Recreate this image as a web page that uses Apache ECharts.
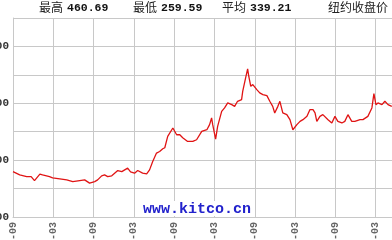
<!DOCTYPE html>
<html>
<head>
<meta charset="utf-8">
<script src="https://cdn.jsdelivr.net/npm/echarts@6/dist/echarts.min.js"></script>
<style>
html,body{margin:0;padding:0;background:#fff;}
#chart{width:392px;height:240px;}
</style>
</head>
<body>
<div id="chart"></div>
<script>
// ---- data ----
const statLabels = ['最高', '最低', '平均'];
const statValues = ['460.69', '259.59', '339.21'];
const chartTitle = '纽约收盘价';
const watermark = 'www.kitco.cn';
const startMonth = '2017-09';
const yTickLabels = [200, 300, 400, 500];

const dates = [
 '2017-09-01','2017-10-01','2017-11-02','2017-11-22','2017-12-07','2018-01-01','2018-01-13','2018-02-14','2018-02-28','2018-03-30',
 '2018-05-01','2018-05-28','2018-06-29','2018-07-21','2018-08-13','2018-09-06','2018-09-19','2018-10-07','2018-10-20','2018-11-04',
 '2018-11-22','2018-12-19','2019-01-07','2019-02-03','2019-02-16','2019-03-04','2019-03-18','2019-04-10','2019-04-28','2019-05-11',
 '2019-05-25','2019-06-12','2019-06-26','2019-07-10','2019-07-19','2019-08-02','2019-08-25','2019-09-12','2019-09-26','2019-10-09',
 '2019-11-01','2019-11-24','2019-12-11','2020-01-04','2020-01-27','2020-02-09','2020-02-18','2020-02-23','2020-03-06','2020-03-15',
 '2020-04-03','2020-04-16','2020-04-30','2020-05-18','2020-06-01','2020-06-14','2020-07-02','2020-07-07','2020-07-20','2020-07-29',
 '2020-08-04','2020-08-13','2020-08-22','2020-09-10','2020-09-23','2020-10-07','2020-10-25','2020-11-08','2020-11-21','2020-11-30',
 '2020-12-14','2020-12-23','2021-01-06','2021-01-24','2021-02-08','2021-02-21','2021-03-09','2021-03-23','2021-04-06','2021-04-24',
 '2021-05-07','2021-05-21','2021-05-30','2021-06-08','2021-06-22','2021-07-05','2021-07-28','2021-08-15','2021-08-29','2021-09-12',
 '2021-09-30','2021-10-13','2021-10-27','2021-11-14','2021-11-28','2021-12-21','2022-01-04','2022-01-26','2022-02-14','2022-02-23',
 '2022-03-02','2022-03-11','2022-03-29','2022-04-12','2022-04-26','2022-05-13'
];
const prices = [
 279.9,274.1,271.1,271.1,264.1,275.4,274.0,271.1,268.8,267.1,
 265.3,262.3,264.1,265.3,259.59,262.3,265.3,272.4,274.1,271.1,
 272.4,281.7,279.9,285.9,279.4,277.1,281.7,277.1,275.9,282.9,
 297.6,312.4,315.2,320.0,321.8,341.7,356.5,344.7,344.7,339.4,
 332.9,332.9,335.9,350.5,353.5,362.4,374.2,362.4,337.1,359.4,
 385.8,391.8,400.6,397.6,394.6,403.5,406.5,421.1,444.8,460.69,
 447.6,429.9,432.9,424.1,418.3,415.3,413.5,403.5,394.6,383.0,
 394.6,403.5,383.0,380.0,371.2,353.5,362.4,368.2,371.2,377.0,
 388.8,388.8,383.0,368.2,377.0,380.0,371.2,365.4,377.0,368.2,
 365.4,368.2,380.0,368.2,368.2,371.2,371.2,377.0,391.8,417.0,
 397.6,400.6,397.6,403.5,397.6,394.6
];

// ---- helpers ----
const [sy, sm] = startMonth.split('-').map(Number);
function monthIndex(d) {
  const [y, m, dd] = d.split('-').map(Number);
  return (y - sy) * 12 + (m - sm) + (dd - 1) / 30;
}
function monthLabel(v) {
  const t = sm - 1 + Math.round(v);
  const y = sy + Math.floor(t / 12);
  const m = (t % 12) + 1;
  return y + '-' + (m < 10 ? '0' + m : m);
}
const seriesData = dates.map((d, i) => [monthIndex(d), prices[i]]);

const GRID = '#c8c8c8';
const MONO = '"Liberation Mono", "DejaVu Sans Mono", monospace';
const CJK = '"Noto Sans CJK SC", sans-serif';

const chart = echarts.init(document.getElementById('chart'), null, {renderer: 'canvas'});

const statX = [39, 133, 222];
const graphics = [];
statLabels.forEach((lab, i) => {
  graphics.push({type: 'text', left: statX[i], top: 1, z: 10,
    style: {text: lab, font: '12px ' + CJK, fill: '#222'}});
  graphics.push({type: 'text', left: statX[i] + 28, top: 2, z: 10,
    style: {text: statValues[i], font: 'bold 11.5px ' + MONO, fill: '#111'}});
});
graphics.push({type: 'text', left: 328, top: 1, z: 10,
  style: {text: chartTitle, font: '12px ' + CJK, fill: '#222'}});
graphics.push({type: 'rect', left: 140, top: 201, z: 10,
  shape: {width: 114, height: 15}, style: {fill: '#fff'}});
graphics.push({type: 'text', left: 143, top: 202, z: 11,
  style: {text: watermark, font: 'bold 15px ' + MONO, fill: '#2222cc'}});

chart.setOption({
  animation: false,
  backgroundColor: '#fff',
  grid: {left: 13, top: 18, width: 403, height: 199, containLabel: false, outerBoundsMode: 'none'},
  xAxis: {
    type: 'value', min: 0, max: 60, interval: 6,
    axisLine: {show: true, lineStyle: {color: GRID, width: 1}},
    axisTick: {show: false},
    splitLine: {show: true, lineStyle: {color: GRID, width: 1}},
    axisLabel: {
      rotate: 90, margin: 5, color: '#666',
      fontFamily: MONO, fontWeight: 'bold', fontSize: 10,
      formatter: monthLabel
    }
  },
  yAxis: {
    type: 'value', min: 200, max: 550, interval: 50,
    axisLine: {show: true, lineStyle: {color: GRID, width: 1}},
    axisTick: {show: false},
    splitLine: {show: true, lineStyle: {color: GRID, width: 1}},
    axisLabel: {
      margin: 4, color: '#333',
      fontFamily: MONO, fontWeight: 'bold', fontSize: 11,
      formatter: v => yTickLabels.indexOf(v) >= 0 ? String(v) : ''
    }
  },
  series: [{
    type: 'line', data: seriesData, showSymbol: false,
    lineStyle: {color: '#e01414', width: 1.3}, z: 5
  }],
  graphic: graphics
});
</script>
</body>
</html>
